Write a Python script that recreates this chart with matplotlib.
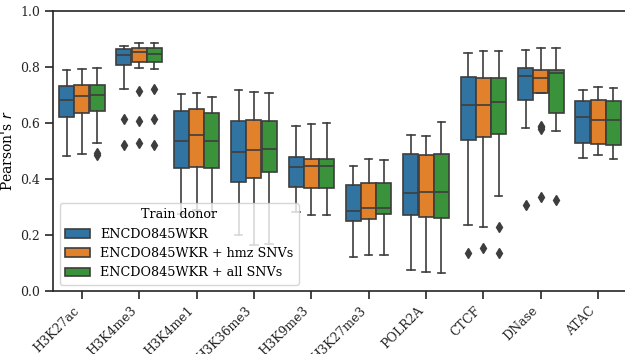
import matplotlib
matplotlib.use("Agg")
import matplotlib.pyplot as plt
from matplotlib.patches import Patch
import numpy as np

plt.rcParams['font.family'] = ['DejaVu Serif']
plt.rcParams['axes.edgecolor'] = '#262626'
plt.rcParams['xtick.color'] = '#262626'
plt.rcParams['ytick.color'] = '#262626'

marks = ['H3K27ac', 'H3K4me3', 'H3K4me1', 'H3K36me3', 'H3K9me3',
         'H3K27me3', 'POLR2A', 'CTCF', 'DNase', 'ATAC']
donors = ['ENCDO845WKR', 'ENCDO845WKR + hmz SNVs', 'ENCDO845WKR + all SNVs']
colors = ['#3274a1', '#e1812c', '#3a923a']

# per mark: lower whisker, q1, median, q3, upper whisker
ref_stats = [
    [0.481, 0.620, 0.683, 0.732, 0.789],
    [0.722, 0.808, 0.843, 0.864, 0.876],
    [0.276, 0.441, 0.536, 0.643, 0.703],
    [0.200, 0.388, 0.496, 0.606, 0.718],
    [0.282, 0.373, 0.443, 0.477, 0.589],
    [0.123, 0.250, 0.287, 0.380, 0.446],
    [0.075, 0.270, 0.350, 0.491, 0.557],
    [0.234, 0.540, 0.665, 0.765, 0.851],
    [0.583, 0.681, 0.766, 0.798, 0.861],
    [0.474, 0.530, 0.621, 0.677, 0.717],
]
hmz_stats = [
    [0.489, 0.634, 0.695, 0.736, 0.793],
    [0.795, 0.816, 0.852, 0.866, 0.885],
    [0.288, 0.444, 0.558, 0.649, 0.706],
    [0.163, 0.405, 0.505, 0.609, 0.711],
    [0.272, 0.367, 0.446, 0.472, 0.595],
    [0.128, 0.257, 0.295, 0.386, 0.472],
    [0.067, 0.264, 0.352, 0.485, 0.553],
    [0.229, 0.549, 0.663, 0.762, 0.858],
    [0.708, 0.708, 0.762, 0.789, 0.867],
    [0.484, 0.525, 0.611, 0.683, 0.729],
]
all_stats = [
    [0.527, 0.643, 0.699, 0.735, 0.797],
    [0.792, 0.816, 0.848, 0.867, 0.885],
    [0.281, 0.439, 0.534, 0.637, 0.693],
    [0.167, 0.425, 0.508, 0.607, 0.707],
    [0.272, 0.367, 0.446, 0.470, 0.601],
    [0.127, 0.274, 0.297, 0.386, 0.468],
    [0.063, 0.260, 0.352, 0.491, 0.603],
    [0.338, 0.560, 0.676, 0.759, 0.858],
    [0.572, 0.637, 0.780, 0.789, 0.867],
    [0.471, 0.523, 0.611, 0.680, 0.724],
]

ref_fliers = [[], [0.613, 0.523], [], [], [], [], [], [0.137], [0.307], []]
hmz_fliers = [[], [0.713, 0.606, 0.528], [], [], [], [], [], [0.153],
              [0.590, 0.584, 0.578, 0.334], []]
all_fliers = [[0.492, 0.486], [0.720, 0.613, 0.523], [], [], [], [], [],
              [0.228, 0.135], [0.324], []]

stats_by_donor = [ref_stats, hmz_stats, all_stats]
fliers_by_donor = [ref_fliers, hmz_fliers, all_fliers]

gray = '#3d3d3d'
lw = 1.2

fig = plt.figure(figsize=(6.25, 3.54), dpi=100)
ax = fig.add_axes([0.085, 0.178, 0.918, 0.791])

n = len(donors)
group_w = 0.8
box_w = group_w / n
for j in range(n):
    bxp = []
    for i in range(len(marks)):
        lo, q1, med, q3, hi = stats_by_donor[j][i]
        bxp.append(dict(whislo=lo, q1=q1, med=med, q3=q3, whishi=hi,
                        fliers=fliers_by_donor[j][i]))
    pos = np.arange(len(marks)) - group_w / 2 + box_w * (j + 0.5)
    ax.bxp(bxp, positions=pos, widths=box_w * 0.98, patch_artist=True,
           showfliers=True, manage_ticks=False,
           boxprops=dict(facecolor=colors[j], edgecolor=gray, linewidth=lw),
           medianprops=dict(color=gray, linewidth=lw),
           whiskerprops=dict(color=gray, linewidth=lw),
           capprops=dict(color=gray, linewidth=lw),
           flierprops=dict(marker='d', markersize=5, markerfacecolor=gray,
                           markeredgecolor=gray))

ax.set_xlim(-0.5, len(marks) - 0.5)
ax.set_ylim(0, 1)
ax.set_yticks(np.arange(0, 1.01, 0.2))
ax.set_xticks(np.arange(len(marks)))
ax.set_xticklabels(marks, rotation=45, ha='right', fontsize=9)
ax.tick_params(axis='y', labelsize=9)
ax.tick_params(length=6, width=1.2)
for sp in ax.spines.values():
    sp.set_linewidth(1.2)
ax.set_ylabel("Pearson's $r$", fontsize=10)

handles = [Patch(facecolor=c, edgecolor=gray, linewidth=lw) for c in colors]
ax.legend(handles, donors, title='Train donor', loc='lower left',
          fontsize=9.2, title_fontsize=9.2)

fig.savefig('out.png', dpi=100)
